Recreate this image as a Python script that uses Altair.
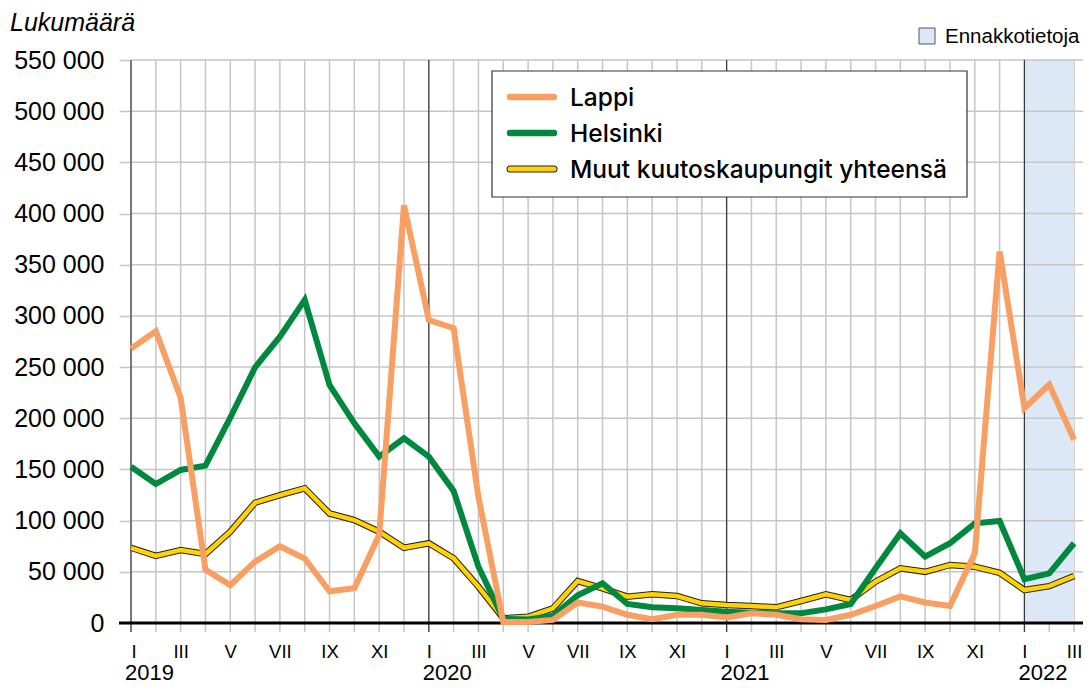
import altair as alt
import pandas as pd

# ---------------- data ----------------
month_index = list(range(39))  # Jan 2019 ... Mar 2022
roman = ["I", "II", "III", "IV", "V", "VI", "VII", "VIII", "IX", "X", "XI", "XII"]
years = ["2019", "2020", "2021", "2022"]
year_start = [0, 12, 24, 36]
prelim_start, prelim_end = 36, 38

series_names = ["Lappi", "Helsinki", "Muut kuutoskaupungit yhteensä"]

lappi = [268, 285, 220, 52, 37, 60, 75, 63, 31, 34, 86, 408,
         296, 288, 123, 1, 1, 3, 20, 16, 8, 3.6, 8, 8,
         5.5, 9.5, 8, 3.6, 3, 8, 16.6, 26, 20, 16.6, 68, 363,
         210, 233, 179]
helsinki = [152.7, 135.8, 149.5, 153.7, 200.6, 249.8, 279.7, 315.6, 232.5, 195, 162.5, 180.4,
            162.5, 129, 55, 4, 3.5, 7, 27, 38.8, 18.6, 15.3, 14.3, 12.7,
            11, 10, 9.5, 9.5, 13.3, 18.6, 53.4, 87.6, 64.8, 77.9, 97.4, 99.6,
            42.7, 48.5, 77.9]
muut = [73.5, 65.5, 71.3, 67.4, 89.2, 117.5, 125, 131.6, 107, 100.6, 89.2, 73.5,
        77.9, 63.2, 35.5, 4.6, 6, 14.3, 41, 33.9, 25.7, 28, 26.4, 19.2,
        17.6, 16.6, 15.3, 21.5, 28, 22.5, 40.3, 53.4, 50, 56.7, 55, 49,
        32.2, 36, 45.9]

y_ticks = [0, 50000, 100000, 150000, 200000, 250000, 300000, 350000, 400000, 450000, 500000, 550000]
y_labels = ["0", "50 000", "100 000", "150 000", "200 000", "250 000", "300 000",
            "350 000", "400 000", "450 000", "500 000", "550 000"]

# ---------------- styles ----------------
W, H = 952, 563
ORANGE = "#F89F63"
GREEN = "#00893E"
YELLOW = "#FFD200"
GRID = "#c6c6c6"
BAND = "#dce8f5"
FONT = "Liberation Sans"

xs = alt.Scale(domain=[0, 38.36], nice=False, zero=False)
ys = alt.Scale(domain=[0, 550000], nice=False)

df_lappi = pd.DataFrame({"i": month_index, "v": [v * 1000 for v in lappi]})
df_hel = pd.DataFrame({"i": month_index, "v": [v * 1000 for v in helsinki]})
df_muut = pd.DataFrame({"i": month_index, "v": [v * 1000 for v in muut]})
df_months = pd.DataFrame({"i": month_index})
df_years = pd.DataFrame({"i": year_start, "label": years})
df_band = pd.DataFrame({"s": [prelim_start], "e": [prelim_end]})
df_yt = pd.DataFrame({"v": y_ticks[1:]})
df_zero = pd.DataFrame({"v": [0]})
one = pd.DataFrame({"a": [0]})

roman_js = "[" + ",".join("'" + r + "'" for r in roman) + "]"
x_label_expr = f"datum.value % 2 == 0 ? {roman_js}[datum.value % 12] : ''"
ylab_js = "[" + ",".join("'" + s + "'" for s in y_labels) + "]"
y_label_expr = f"{ylab_js}[round(datum.value / 50000)]"

x_axis = alt.Axis(values=month_index, labelExpr=x_label_expr, ticks=False, domain=False,
                  grid=False, title=None, labelFontSize=18.5, labelFont=FONT,
                  labelColor="#000", labelPadding=19, labelBaseline="top")
y_axis = alt.Axis(values=y_ticks, labelExpr=y_label_expr, tickSize=12, tickColor=GRID,
                  tickWidth=1.5, domain=False, grid=False, title=None,
                  labelFontSize=25, labelFont=FONT, labelColor="#000", labelPadding=15)

month_rules = alt.Chart(df_months).mark_rule(color=GRID, strokeWidth=1.5).encode(
    x=alt.X("i:Q", scale=xs, axis=x_axis), y=alt.value(0), y2=alt.value(H + 9))

band = alt.Chart(df_band).mark_rect(color=BAND).encode(
    x=alt.X("s:Q", scale=xs), x2="e:Q", y=alt.value(0), y2=alt.value(H))

hgrid = alt.Chart(df_yt).mark_rule(color=GRID, strokeWidth=1.5).encode(
    y=alt.Y("v:Q", scale=ys, axis=y_axis))

year_rules = alt.Chart(df_years).mark_rule(color="#3a3a3a", strokeWidth=1.2).encode(
    x=alt.X("i:Q", scale=xs), y=alt.value(0), y2=alt.value(H + 9))

zero = alt.Chart(df_zero).mark_rule(color="#000", strokeWidth=3).encode(
    y=alt.Y("v:Q", scale=ys), x=alt.value(-12), x2=alt.value(W))

muut_outline = alt.Chart(df_muut).mark_line(color="#222", strokeWidth=6.5).encode(
    x=alt.X("i:Q", scale=xs), y=alt.Y("v:Q", scale=ys))
muut_line = alt.Chart(df_muut).mark_line(color=YELLOW, strokeWidth=4.5).encode(
    x=alt.X("i:Q", scale=xs), y=alt.Y("v:Q", scale=ys))
hel_line = alt.Chart(df_hel).mark_line(color=GREEN, strokeWidth=6).encode(
    x=alt.X("i:Q", scale=xs), y=alt.Y("v:Q", scale=ys))
lappi_line = alt.Chart(df_lappi).mark_line(color=ORANGE, strokeWidth=6).encode(
    x=alt.X("i:Q", scale=xs), y=alt.Y("v:Q", scale=ys))

year_text = alt.Chart(df_years).mark_text(align="left", baseline="alphabetic", dx=-6,
                                          fontSize=22, font=FONT, color="#000").encode(
    x=alt.X("i:Q", scale=xs), y=alt.value(H + 57), text="label:N")

title_text = alt.Chart(one).mark_text(align="left", baseline="alphabetic", fontSize=25,
                                      font=FONT, fontStyle="italic", color="#000").encode(
    x=alt.value(-121), y=alt.value(-29), text=alt.value("Lukumäärä"))

# preliminary-data key
prelim_box = alt.Chart(one).mark_rect(fill=BAND, stroke="#555", strokeWidth=1).encode(
    x=alt.value(788), x2=alt.value(804), y=alt.value(-32), y2=alt.value(-16))
prelim_text = alt.Chart(one).mark_text(align="left", baseline="alphabetic", fontSize=20.5,
                                       font=FONT, color="#000").encode(
    x=alt.value(814), y=alt.value(-17), text=alt.value("Ennakkotietoja"))

# legend
leg_box = alt.Chart(one).mark_rect(fill="white", stroke="#333", strokeWidth=1.2).encode(
    x=alt.value(361), x2=alt.value(836), y=alt.value(11), y2=alt.value(137))
leg_layers = []
leg_y = [37, 73, 109]
leg_cols = [ORANGE, GREEN, YELLOW]
for k, (name, col, yy) in enumerate(zip(series_names, leg_cols, leg_y)):
    if k == 2:
        leg_layers.append(alt.Chart(one).mark_rule(color="#222", strokeWidth=7, strokeCap="round").encode(
            x=alt.value(379), x2=alt.value(423), y=alt.value(yy)))
        leg_layers.append(alt.Chart(one).mark_rule(color=col, strokeWidth=5, strokeCap="round").encode(
            x=alt.value(379), x2=alt.value(423), y=alt.value(yy)))
    else:
        leg_layers.append(alt.Chart(one).mark_rule(color=col, strokeWidth=6.5, strokeCap="round").encode(
            x=alt.value(379), x2=alt.value(423), y=alt.value(yy)))
    leg_layers.append(alt.Chart(one).mark_text(align="left", baseline="alphabetic", fontSize=24.5,
                                               font="Inter", fontWeight=500, color="#000").encode(
        x=alt.value(439), y=alt.value(yy + 9), text=alt.value(name)))

chart = alt.layer(
    month_rules, band, hgrid, year_rules, zero,
    muut_outline, muut_line, hel_line, lappi_line,
    year_text, title_text, prelim_box, prelim_text, leg_box, *leg_layers
).properties(
    width=W, height=H,
    autosize=alt.AutoSizeParams(type="none"),
    padding={"left": 123, "top": 52, "right": 0, "bottom": 62},
    background="white",
).configure_view(stroke=None)

chart.save("out.html", embed_options={"renderer": "svg", "actions": False})
